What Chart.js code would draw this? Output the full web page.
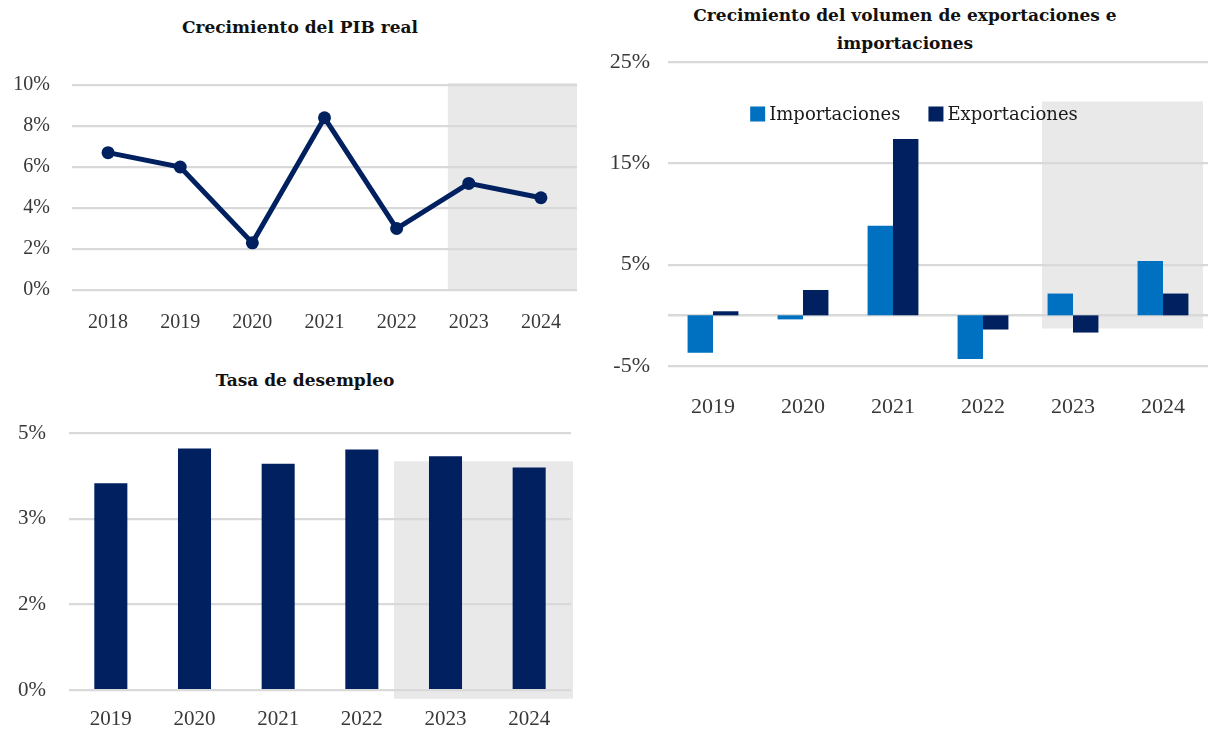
<!DOCTYPE html>
<html lang="es">
<head>
<meta charset="utf-8">
<script src="https://cdn.jsdelivr.net/npm/chart.js@4.4.1/dist/chart.umd.min.js"></script>
<style>
  body { margin: 0; background: #fff; width: 1210px; height: 733px; position: relative; overflow: hidden; }
  .panel { position: absolute; }
  .title { position: absolute; font-family: "DejaVu Serif", serif; font-weight: bold; font-size: 17px;
           color: #111; text-align: center; white-space: nowrap; line-height: 28px; }
</style>
</head>
<body>
<div class="title" style="left:100px; width:400px; top:13px;">Crecimiento del PIB real</div>
<div class="title" style="left:105px; width:400px; top:366px;">Tasa de desempleo</div>
<div class="title" style="left:655px; width:500px; top:1px;">Crecimiento del volumen de exportaciones e<br>importaciones</div>

<div class="panel" style="left:0; top:0; width:600px; height:345px;"><canvas id="pib"></canvas></div>
<div class="panel" style="left:0; top:360px; width:600px; height:373px;"><canvas id="desempleo"></canvas></div>
<div class="panel" style="left:600px; top:0; width:610px; height:430px;"><canvas id="comercio"></canvas></div>

<script>
// PIB real, % anual
const pibYears = ["2018", "2019", "2020", "2021", "2022", "2023", "2024"];
const pibGrowth = [6.7, 6.0, 2.3, 8.4, 3.0, 5.2, 4.5];

// Tasa de desempleo, %
const unempYears = ["2019", "2020", "2021", "2022", "2023", "2024"];
const unempRate = [4.02, 4.70, 4.40, 4.68, 4.55, 4.33];

// Volumen de comercio, % anual
const tradeYears = ["2019", "2020", "2021", "2022", "2023", "2024"];
const imports = [-3.7, -0.4, 8.85, -4.3, 2.15, 5.35];
const exports = [0.4, 2.5, 17.4, -1.4, -1.7, 2.15];

const navy = "#002060";
const blue = "#0070c0";
const gridGray = "#d9d9d9";
const tickColor = "#383838";
const serif = "'Liberation Serif', serif";

// grey band behind the projected years
const forecastShade = {
  id: "forecastShade",
  beforeDraw(chart, args, opts) {
    const { ctx, scales: { x, y }, chartArea } = chart;
    const step = x.getPixelForValue(1) - x.getPixelForValue(0);
    const left = x.getPixelForValue(opts.start) - opts.pad * step;
    const right = chartArea.right + (opts.rightShift || 0);
    const top = y.getPixelForValue(opts.top);
    const bottom = y.getPixelForValue(opts.bottom);
    ctx.save();
    ctx.fillStyle = "#e9e9e9";
    ctx.fillRect(left, top, right - left, bottom - top);
    ctx.restore();
  }
};

// horizontal line at zero for charts with negative values
const zeroLine = {
  id: "zeroLine",
  beforeDatasetsDraw(chart) {
    const { ctx, scales: { y }, chartArea } = chart;
    const py = y.getPixelForValue(0);
    ctx.save();
    ctx.strokeStyle = gridGray;
    ctx.lineWidth = 2.5;
    ctx.beginPath();
    ctx.moveTo(chartArea.left, py);
    ctx.lineTo(chartArea.right, py);
    ctx.stroke();
    ctx.restore();
  }
};

// legend drawn inside the plot area
const innerLegend = {
  id: "innerLegend",
  afterDraw(chart, args, opts) {
    const { ctx } = chart;
    const sets = chart.data.datasets;
    ctx.save();
    ctx.font = opts.font;
    const box = 15, gap = 4, space = 28;
    let total = 0;
    sets.forEach((ds, i) => {
      total += box + gap + ctx.measureText(ds.label).width + (i < sets.length - 1 ? space : 0);
    });
    let xPos = opts.centerX - total / 2;
    ctx.textBaseline = "middle";
    sets.forEach(ds => {
      ctx.fillStyle = ds.backgroundColor;
      ctx.fillRect(xPos, opts.y - box / 2, box, box);
      xPos += box + gap;
      ctx.fillStyle = "#1a1a1a";
      ctx.fillText(ds.label, xPos, opts.y + 1);
      xPos += ctx.measureText(ds.label).width + space;
    });
    ctx.restore();
  }
};

function yAxis(min, max, step, width, size, pad, fmt) {
  return {
    min: min, max: max,
    afterFit: s => { s.width = width; },
    border: { display: false },
    grid: { color: gridGray, lineWidth: 2.2, drawTicks: false },
    ticks: { stepSize: step, padding: pad, color: tickColor, font: { family: serif, size: size }, callback: fmt }
  };
}

function xAxis(height, size, pad) {
  return {
    offset: true,
    afterFit: s => { s.height = height; },
    border: { display: false },
    grid: { display: false },
    ticks: { padding: pad, color: tickColor, font: { family: serif, size: size } }
  };
}

Chart.defaults.animation = false;
Chart.defaults.maintainAspectRatio = false;
Chart.defaults.plugins.legend.display = false;
Chart.defaults.plugins.tooltip.enabled = false;

new Chart(document.getElementById("pib"), {
  type: "line",
  data: {
    labels: pibYears,
    datasets: [{
      data: pibGrowth,
      borderColor: navy,
      backgroundColor: navy,
      borderWidth: 5,
      pointRadius: 6.5,
      pointBorderWidth: 0,
      tension: 0
    }]
  },
  options: {
    layout: { padding: { top: 85, right: 23, left: 0, bottom: 0 } },
    scales: {
      x: xAxis(55, 20, 13),
      y: yAxis(0, 10, 2, 72, 20, 22, v => v + "%")
    },
    plugins: { forecastShade: { start: 5, pad: 0.29, top: 10.1, bottom: 0 } }
  },
  plugins: [forecastShade]
});

new Chart(document.getElementById("desempleo"), {
  type: "bar",
  data: {
    labels: unempYears,
    datasets: [{
      data: unempRate,
      backgroundColor: navy,
      barPercentage: 0.395,
      categoryPercentage: 1
    }]
  },
  options: {
    layout: { padding: { top: 73, right: 29, left: 0, bottom: 0 } },
    scales: {
      x: xAxis(43, 21, 9),
      y: yAxis(0, 5, 5 / 3, 69, 21, 23, v => Math.round(v) + "%")
    },
    plugins: { forecastShade: { start: 4, pad: 0.615, top: 4.45, bottom: -0.17, rightShift: 2 } }
  },
  plugins: [forecastShade]
});

new Chart(document.getElementById("comercio"), {
  type: "bar",
  data: {
    labels: tradeYears,
    datasets: [
      { label: "Importaciones", data: imports, backgroundColor: blue, barPercentage: 1, categoryPercentage: 0.565 },
      { label: "Exportaciones", data: exports, backgroundColor: navy, barPercentage: 1, categoryPercentage: 0.565 }
    ]
  },
  options: {
    layout: { padding: { top: 62, right: 2, left: 0, bottom: 0 } },
    scales: {
      x: xAxis(64, 22, 20),
      y: yAxis(-5, 25, 10, 68, 22, 18, v => v + "%")
    },
    plugins: {
      forecastShade: { start: 4, pad: 0.344, top: 21.1, bottom: -1.3, rightShift: -5 },
      innerLegend: { centerX: 314, y: 114, font: "18px 'DejaVu Serif', serif" }
    }
  },
  plugins: [forecastShade, zeroLine, innerLegend]
});
</script>
</body>
</html>
